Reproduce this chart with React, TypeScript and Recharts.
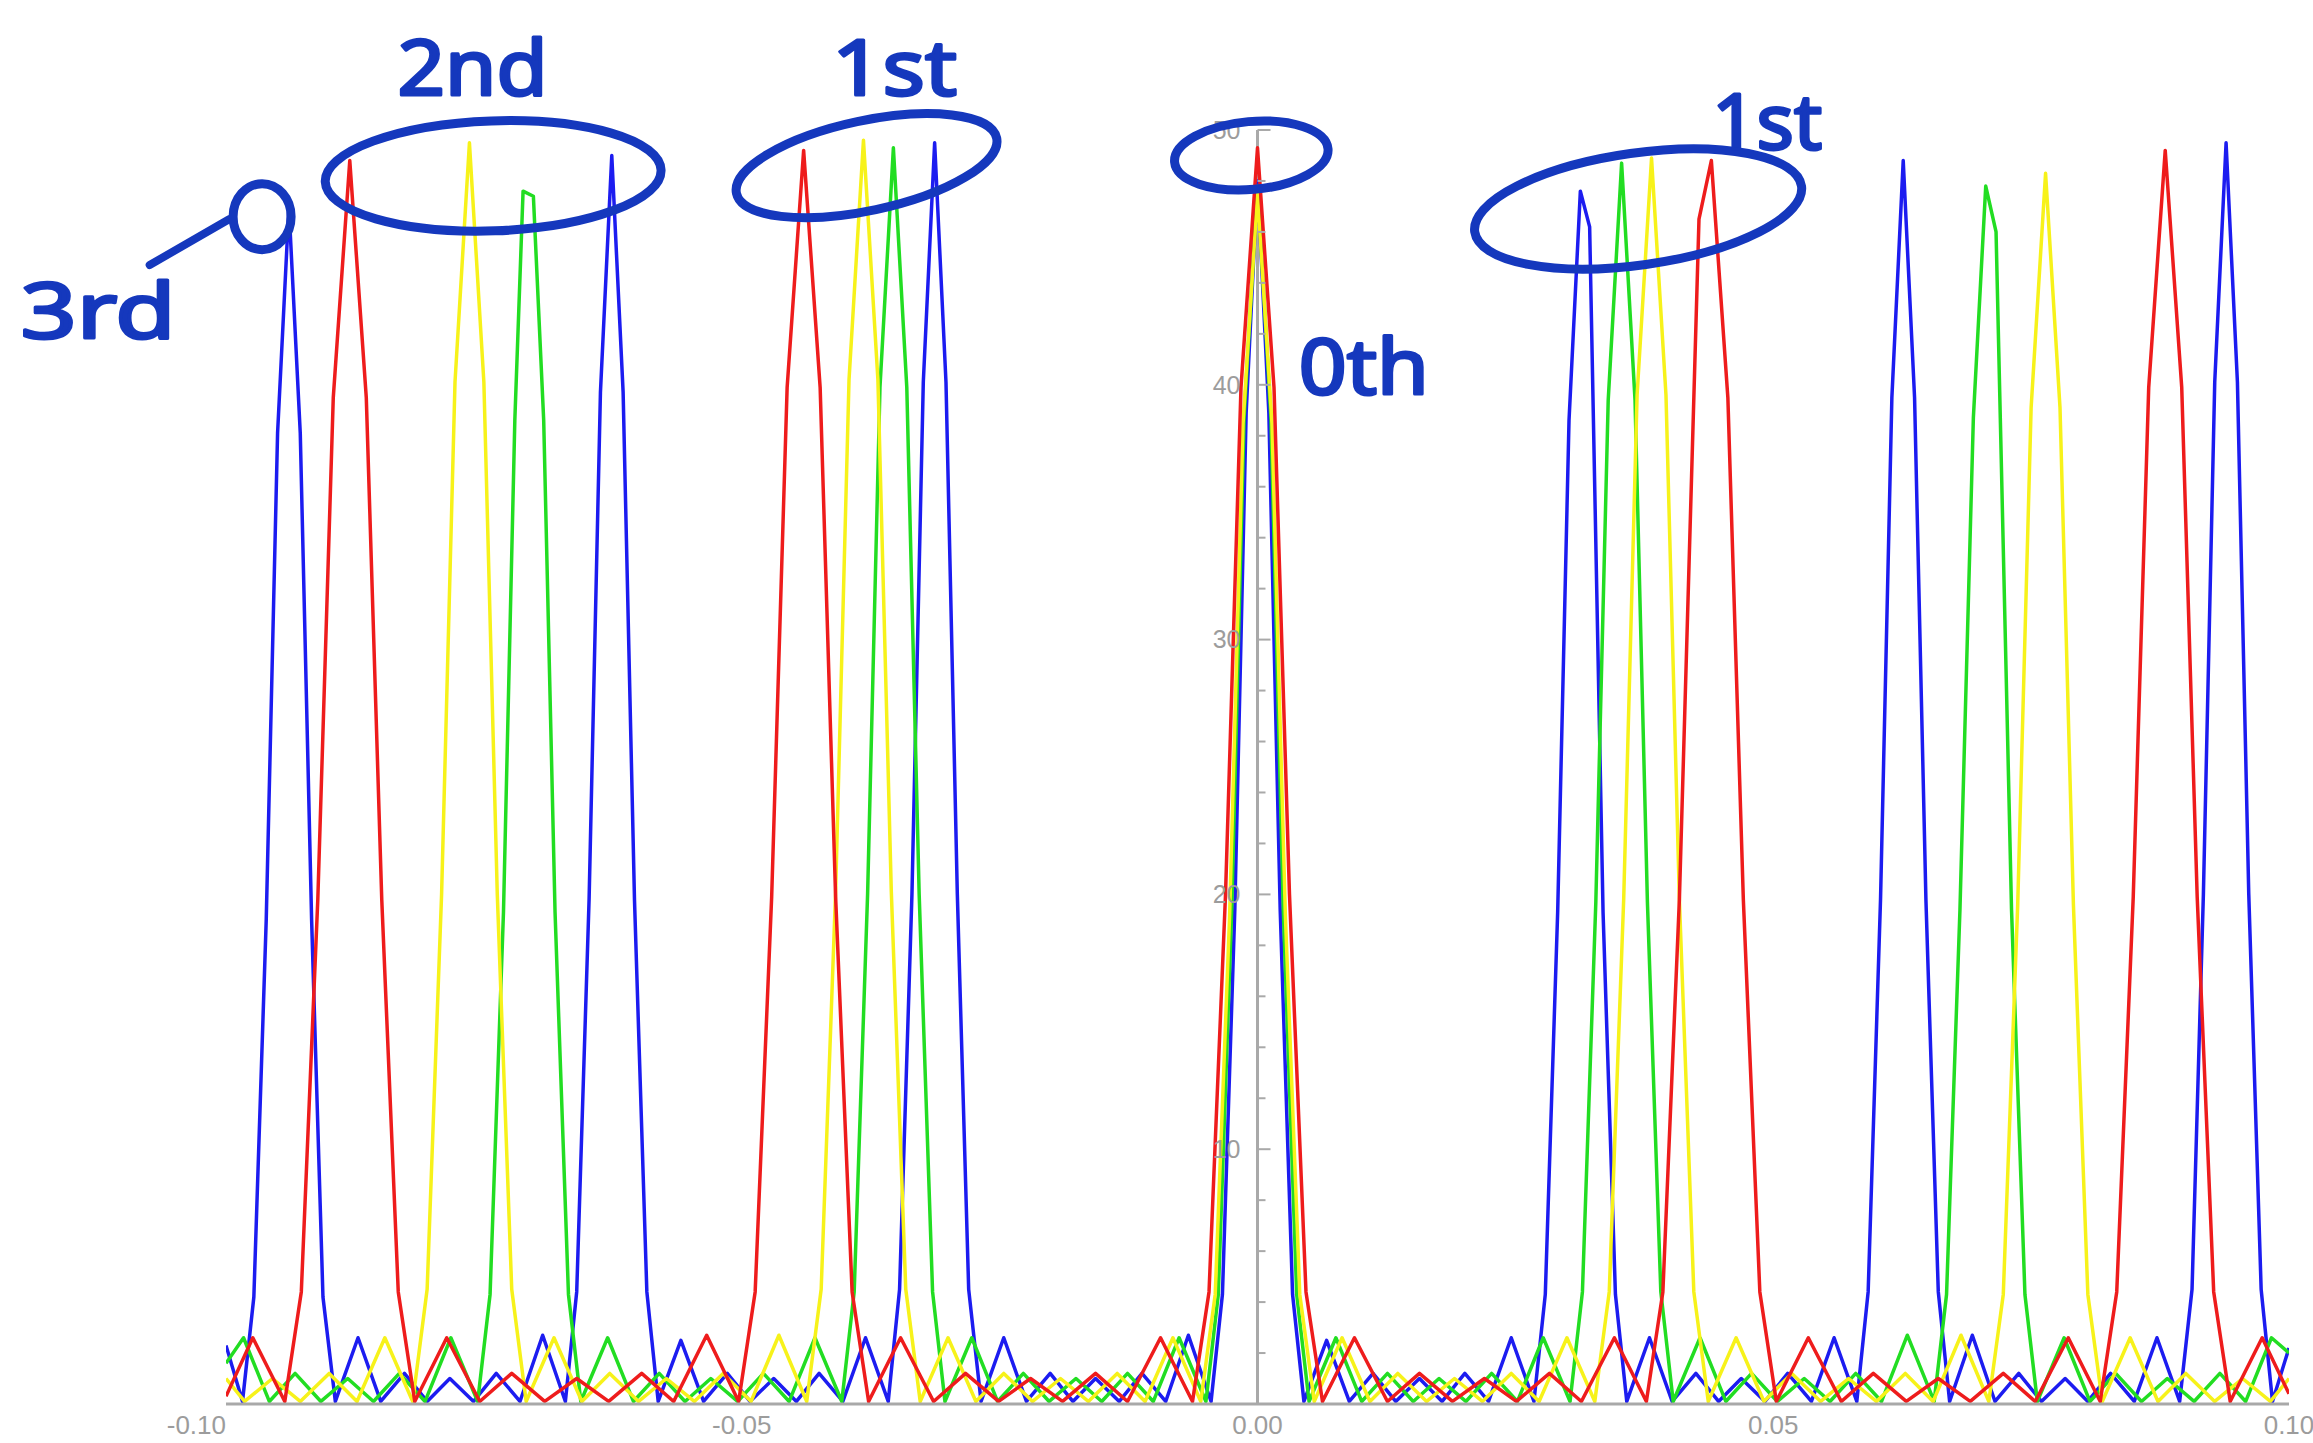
import React from "react";
import {
  LineChart,
  Line,
  XAxis,
  YAxis,
  ReferenceLine,
  ReferenceDot,
} from "recharts";

// intensity curves as [x, intensity]
const blue: [number, number][] = [
  [-0.1, 2.3], [-0.0984, 0.1],
  [-0.0973, 4.2], [-0.0961, 19.0], [-0.095, 38.1], [-0.0939, 47.0], [-0.0928, 38.1], [-0.0917, 19.0], [-0.0906, 4.2],
  [-0.0894, 0.1], [-0.0872, 2.6], [-0.085, 0.1], [-0.0827, 1.2], [-0.0805, 0.1], [-0.0783, 1.0], [-0.076, 0.1], [-0.0738, 1.2], [-0.0715, 0.1], [-0.0693, 2.7], [-0.0671, 0.1],
  [-0.066, 4.4], [-0.0648, 19.8], [-0.0637, 39.7], [-0.0626, 49.0], [-0.0615, 39.7], [-0.0604, 19.8], [-0.0592, 4.4],
  [-0.0581, 0.1], [-0.0559, 2.5], [-0.0537, 0.1], [-0.0514, 1.2], [-0.0492, 0.1], [-0.0469, 1.0], [-0.0447, 0.1], [-0.0425, 1.2], [-0.0402, 0.1], [-0.038, 2.6], [-0.0358, 0.1],
  [-0.0347, 4.5], [-0.0335, 20.0], [-0.0324, 40.1], [-0.0313, 49.5], [-0.0302, 40.1], [-0.0291, 20.0], [-0.028, 4.5],
  [-0.0268, 0.1], [-0.0246, 2.6], [-0.0224, 0.1], [-0.0201, 1.2], [-0.0179, 0.1], [-0.0157, 1.0], [-0.0134, 0.1], [-0.0112, 1.2], [-0.0089, 0.1], [-0.0067, 2.7], [-0.0045, 0.1],
  [-0.0034, 4.3], [-0.0022, 19.4], [-0.0011, 38.9], [0, 48.0], [0.0011, 38.9], [0.0022, 19.4], [0.0034, 4.3],
  [0.0045, 0.1], [0.0067, 2.5], [0.0089, 0.1], [0.0112, 1.2], [0.0134, 0.1], [0.0157, 1.0], [0.0179, 0.1], [0.0201, 1.2], [0.0224, 0.1], [0.0246, 2.6], [0.0268, 0.1],
  [0.0279, 4.3], [0.0291, 19.3], [0.0302, 38.6], [0.0313, 47.6], [0.0322, 46.2], [0.0335, 19.3], [0.0347, 4.3],
  [0.0358, 0.1], [0.038, 2.6], [0.0402, 0.1], [0.0425, 1.2], [0.0447, 0.1], [0.0469, 1.0], [0.0492, 0.1], [0.0514, 1.2], [0.0537, 0.1], [0.0559, 2.6], [0.0581, 0.1],
  [0.0592, 4.4], [0.0604, 19.8], [0.0615, 39.5], [0.0626, 48.8], [0.0637, 39.5], [0.0648, 19.8], [0.066, 4.4],
  [0.0671, 0.1], [0.0693, 2.7], [0.0715, 0.1], [0.0738, 1.2], [0.076, 0.1], [0.0783, 1.0], [0.0805, 0.1], [0.0827, 1.2], [0.085, 0.1], [0.0872, 2.6], [0.0894, 0.1],
  [0.0906, 4.5], [0.0917, 20.0], [0.0928, 40.1], [0.0939, 49.5], [0.095, 40.1], [0.0961, 20.0], [0.0973, 4.5],
  [0.0984, 0.1], [0.1, 2.2],
];

const red: [number, number][] = [
  [-0.1, 0.3], [-0.0974, 2.6], [-0.0943, 0.1],
  [-0.0927, 4.4], [-0.0911, 19.8], [-0.0896, 39.5], [-0.088, 48.8], [-0.0864, 39.5], [-0.0849, 19.8], [-0.0833, 4.4],
  [-0.0817, 0.1], [-0.0786, 2.6], [-0.0754, 0.1], [-0.0723, 1.2], [-0.0691, 0.1], [-0.066, 1.0], [-0.0629, 0.1], [-0.0597, 1.2], [-0.0566, 0.1], [-0.0534, 2.7], [-0.0503, 0.1],
  [-0.0487, 4.4], [-0.0471, 19.9], [-0.0456, 39.9], [-0.044, 49.2], [-0.0424, 39.9], [-0.0409, 19.9], [-0.0393, 4.4],
  [-0.0377, 0.1], [-0.0346, 2.6], [-0.0314, 0.1], [-0.0283, 1.2], [-0.0251, 0.1], [-0.022, 1.0], [-0.0189, 0.1], [-0.0157, 1.2], [-0.0126, 0.1], [-0.0094, 2.6], [-0.0063, 0.1],
  [-0.0047, 4.4], [-0.0031, 20.0], [-0.0016, 39.9], [0, 49.3], [0.0016, 39.9], [0.0031, 20.0], [0.0047, 4.4],
  [0.0063, 0.1], [0.0094, 2.6], [0.0126, 0.1], [0.0157, 1.2], [0.0189, 0.1], [0.022, 1.0], [0.0251, 0.1], [0.0283, 1.2], [0.0314, 0.1], [0.0346, 2.6], [0.0377, 0.1],
  [0.0393, 4.4], [0.0409, 19.8], [0.0428, 46.5], [0.044, 48.8], [0.0456, 39.5], [0.0471, 19.8], [0.0487, 4.4],
  [0.0503, 0.1], [0.0534, 2.6], [0.0566, 0.1], [0.0597, 1.2], [0.0629, 0.1], [0.066, 1.0], [0.0691, 0.1], [0.0723, 1.2], [0.0754, 0.1], [0.0786, 2.6], [0.0817, 0.1],
  [0.0833, 4.4], [0.0849, 19.9], [0.0864, 39.9], [0.088, 49.2], [0.0896, 39.9], [0.0911, 19.9], [0.0927, 4.4],
  [0.0943, 0.1], [0.0974, 2.6], [0.1, 0.4],
];

const yellow: [number, number][] = [
  [-0.1, 1.0], [-0.0982, 0.1], [-0.0955, 1.0], [-0.0928, 0.1], [-0.09, 1.2], [-0.0873, 0.1], [-0.0846, 2.6], [-0.0819, 0.1],
  [-0.0805, 4.5], [-0.0791, 20.0], [-0.0778, 40.1], [-0.0764, 49.5], [-0.075, 40.1], [-0.0737, 20.0], [-0.0723, 4.5],
  [-0.0709, 0.1], [-0.0682, 2.6], [-0.0655, 0.1], [-0.0628, 1.2], [-0.06, 0.1], [-0.0573, 1.0], [-0.0546, 0.1], [-0.0518, 1.2], [-0.0491, 0.1], [-0.0464, 2.7], [-0.0437, 0.1],
  [-0.0423, 4.5], [-0.0409, 20.1], [-0.0396, 40.2], [-0.0382, 49.6], [-0.0368, 40.2], [-0.0355, 20.1], [-0.0341, 4.5],
  [-0.0327, 0.1], [-0.03, 2.6], [-0.0273, 0.1], [-0.0246, 1.2], [-0.0218, 0.1], [-0.0191, 1.0], [-0.0164, 0.1], [-0.0136, 1.2], [-0.0109, 0.1], [-0.0082, 2.6], [-0.0055, 0.1],
  [-0.0041, 4.3], [-0.0027, 19.2], [-0.0014, 38.5], [0, 47.5], [0.0014, 38.5], [0.0027, 19.2], [0.0041, 4.3],
  [0.0055, 0.1], [0.0082, 2.6], [0.0109, 0.1], [0.0136, 1.2], [0.0164, 0.1], [0.0191, 1.0], [0.0218, 0.1], [0.0246, 1.2], [0.0273, 0.1], [0.03, 2.6], [0.0327, 0.1],
  [0.0341, 4.4], [0.0355, 19.8], [0.0368, 39.6], [0.0382, 48.9], [0.0396, 39.6], [0.0409, 19.8], [0.0423, 4.4],
  [0.0437, 0.1], [0.0464, 2.6], [0.0491, 0.1], [0.0518, 1.2], [0.0546, 0.1], [0.0573, 1.0], [0.06, 0.1], [0.0628, 1.2], [0.0655, 0.1], [0.0682, 2.7], [0.0709, 0.1],
  [0.0723, 4.3], [0.0737, 19.6], [0.075, 39.1], [0.0764, 48.3], [0.0778, 39.1], [0.0791, 19.6], [0.0805, 4.3],
  [0.0819, 0.1], [0.0846, 2.6], [0.0873, 0.1], [0.09, 1.2], [0.0928, 0.1], [0.0955, 1.0], [0.0982, 0.1], [0.1, 1.0],
];

const green: [number, number][] = [
  [-0.1, 1.6], [-0.0983, 2.6], [-0.0958, 0.1], [-0.0933, 1.2], [-0.0908, 0.1], [-0.0882, 1.0], [-0.0857, 0.1], [-0.0832, 1.2], [-0.0807, 0.1], [-0.0782, 2.6], [-0.0756, 0.1],
  [-0.0744, 4.3], [-0.0731, 19.3], [-0.072, 38.6], [-0.0712, 47.6], [-0.0702, 47.4], [-0.0692, 38.6], [-0.0681, 19.3], [-0.0668, 4.3],
  [-0.0656, 0.1], [-0.063, 2.6], [-0.0605, 0.1], [-0.058, 1.2], [-0.0555, 0.1], [-0.053, 1.0], [-0.0504, 0.1], [-0.0479, 1.2], [-0.0454, 0.1], [-0.0429, 2.6], [-0.0403, 0.1],
  [-0.0391, 4.4], [-0.0378, 20.0], [-0.0366, 39.9], [-0.0353, 49.3], [-0.034, 39.9], [-0.0328, 20.0], [-0.0315, 4.4],
  [-0.0303, 0.1], [-0.0277, 2.6], [-0.0252, 0.1], [-0.0227, 1.2], [-0.0202, 0.1], [-0.0176, 1.0], [-0.0151, 0.1], [-0.0126, 1.2], [-0.0101, 0.1], [-0.0076, 2.6], [-0.005, 0.1],
  [-0.0038, 4.3], [-0.0025, 19.4], [-0.0013, 38.7], [0, 47.8], [0.0013, 38.7], [0.0025, 19.4], [0.0038, 4.3],
  [0.005, 0.1], [0.0076, 2.6], [0.0101, 0.1], [0.0126, 1.2], [0.0151, 0.1], [0.0176, 1.0], [0.0202, 0.1], [0.0227, 1.2], [0.0252, 0.1], [0.0277, 2.6], [0.0303, 0.1],
  [0.0315, 4.4], [0.0328, 19.7], [0.034, 39.4], [0.0353, 48.7], [0.0366, 39.4], [0.0378, 19.7], [0.0391, 4.4],
  [0.0403, 0.1], [0.0429, 2.6], [0.0454, 0.1], [0.0479, 1.2], [0.0504, 0.1], [0.053, 1.0], [0.0555, 0.1], [0.058, 1.2], [0.0605, 0.1], [0.063, 2.7], [0.0656, 0.1],
  [0.0668, 4.3], [0.0681, 19.4], [0.0694, 38.7], [0.0706, 47.8], [0.0716, 46.0], [0.0731, 19.4], [0.0744, 4.3],
  [0.0756, 0.1], [0.0782, 2.6], [0.0807, 0.1], [0.0832, 1.2], [0.0857, 0.1], [0.0882, 1.0], [0.0908, 0.1], [0.0933, 1.2], [0.0958, 0.1], [0.0983, 2.6], [0.1, 2.0],
];

const xTicks = [-0.1, -0.05, 0, 0.05, 0.1];
const yMajor = [10, 20, 30, 40, 50];
const yMinor = [2, 4, 6, 8, 12, 14, 16, 18, 22, 24, 26, 28, 32, 34, 36, 38, 42, 44, 46, 48];

// handwritten notes: text anchors and rings in data coords
const notes = [
  { text: "2nd", x: -0.0761, y: 52.4, w: 150 },
  { text: "1st", x: -0.0352, y: 52.4, w: 125 },
  { text: "3rd", x: -0.1124, y: 42.9, w: 155 },
  { text: "0th", x: 0.0103, y: 40.7, w: 130 },
  { text: "1st", x: 0.0494, y: 50.3, w: 110 },
];
const rings = [
  { x: -0.0965, y: 46.6, rx: 29, ry: 33, rot: 0 },
  { x: -0.0741, y: 48.2, rx: 168, ry: 55, rot: -2 },
  { x: -0.0379, y: 48.6, rx: 133, ry: 45, rot: -12 },
  { x: -0.0006, y: 49.0, rx: 77, ry: 34, rot: -5 },
  { x: 0.0369, y: 46.9, rx: 165, ry: 56, rot: -8 },
];

const toPts = (a: [number, number][]) => a.map(([x, y]) => ({ x, y }));

const AXIS = "#a9a9a9";
const LABEL = "#9c9c9c";
const INK = "#1538bd";

const XTick = (props: any) => {
  const { x, y, payload } = props;
  const v = payload.value as number;
  return (
    <text
      x={x}
      y={y}
      dy={22}
      textAnchor={v < -0.099 ? "end" : "middle"}
      fill={LABEL}
      fontSize={26}
      fontFamily="Liberation Sans, Arial, sans-serif"
    >
      {v.toFixed(2)}
    </text>
  );
};

const App = () => {
  return (
    <div style={{ position: "absolute", left: 0, top: 0, background: "#fff" }}>
      <LineChart
        width={2313}
        height={1443}
        margin={{ top: 130, right: 24, left: 226, bottom: 0 }}
      >
        <XAxis
          dataKey="x"
          type="number"
          domain={[-0.1, 0.1]}
          ticks={xTicks}
          interval={0}
          allowDataOverflow
          height={39}
          tickLine={false}
          axisLine={{ stroke: AXIS, strokeWidth: 3 }}
          tick={<XTick />}
        />
        <YAxis hide type="number" domain={[0, 50]} allowDataOverflow />
        <ReferenceLine x={0} stroke={AXIS} strokeWidth={3} />
        {yMinor.map((v) => (
          <ReferenceDot
            key={"m" + v}
            x={0}
            y={v}
            r={1}
            shape={(p: any) => (
              <line x1={p.cx} x2={p.cx + 8} y1={p.cy} y2={p.cy} stroke={AXIS} strokeWidth={2} />
            )}
          />
        ))}
        {yMajor.map((v) => (
          <ReferenceDot
            key={"M" + v}
            x={0}
            y={v}
            r={1}
            ifOverflow="visible"
            shape={(p: any) => (
              <g>
                <line x1={p.cx} x2={p.cx + 13} y1={p.cy} y2={p.cy} stroke={AXIS} strokeWidth={2} />
                <text
                  x={p.cx - 17}
                  y={p.cy}
                  dy="0.35em"
                  textAnchor="end"
                  fill={LABEL}
                  fontSize={25}
                  fontFamily="Liberation Sans, Arial, sans-serif"
                >
                  {v}
                </text>
              </g>
            )}
          />
        ))}
        <Line data={toPts(blue)} dataKey="y" type="linear" stroke="#1c1cf0" strokeWidth={3.5} strokeLinejoin="round" dot={false} activeDot={false} isAnimationActive={false} />
        <Line data={toPts(green)} dataKey="y" type="linear" stroke="#22dd22" strokeWidth={3.5} strokeLinejoin="round" dot={false} activeDot={false} isAnimationActive={false} />
        <Line data={toPts(yellow)} dataKey="y" type="linear" stroke="#f7f21a" strokeWidth={3.5} strokeLinejoin="round" dot={false} activeDot={false} isAnimationActive={false} />
        <Line data={toPts(red)} dataKey="y" type="linear" stroke="#ee1c1c" strokeWidth={3.5} strokeLinejoin="round" dot={false} activeDot={false} isAnimationActive={false} />
        {rings.map((r, i) => (
          <ReferenceDot
            key={"r" + i}
            x={r.x}
            y={r.y}
            r={1}
            ifOverflow="visible"
            shape={(p: any) => (
              <ellipse
                cx={p.cx}
                cy={p.cy}
                rx={r.rx}
                ry={r.ry}
                transform={`rotate(${r.rot} ${p.cx} ${p.cy})`}
                fill="none"
                stroke={INK}
                strokeWidth={9}
              />
            )}
          />
        ))}
        <ReferenceLine
          segment={[
            { x: -0.1074, y: 44.7 },
            { x: -0.0997, y: 46.5 },
          ]}
          ifOverflow="visible"
          stroke={INK}
          strokeWidth={8}
          strokeLinecap="round"
        />
        {notes.map((n, i) => (
          <ReferenceDot
            key={"n" + i}
            x={n.x}
            y={n.y}
            r={1}
            ifOverflow="visible"
            shape={(p: any) => (
              <text
                x={p.cx}
                y={p.cy}
                dy="0.35em"
                textAnchor="middle"
                fill={INK}
                stroke={INK}
                strokeWidth={3}
                strokeLinejoin="round"
                fontSize={76}
                fontFamily="Noto Sans, DejaVu Sans, sans-serif"
                textLength={n.w}
                lengthAdjust="spacingAndGlyphs"
              >
                {n.text}
              </text>
            )}
          />
        ))}
      </LineChart>
    </div>
  );
};

export default App;
